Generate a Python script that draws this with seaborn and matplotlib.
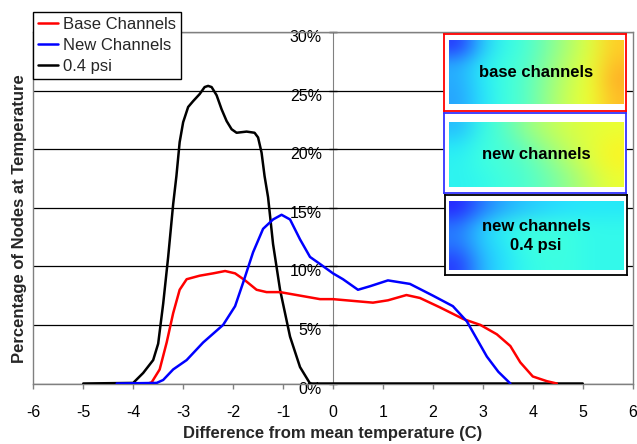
import numpy as np
import pandas as pd
import matplotlib
matplotlib.use("Agg")
import matplotlib.pyplot as plt
import seaborn as sns
from matplotlib.ticker import PercentFormatter
from matplotlib.transforms import ScaledTranslation

# ---------------- data (percent of nodes vs. temperature difference, C) -------------
base_x = [-3.7, -3.63, -3.47, -3.33, -3.2, -3.07, -2.93, -2.67, -2.4, -2.16, -1.96,
          -1.76, -1.53, -1.33, -1.06, -0.26, 0.0, 0.8, 1.1, 1.47, 1.74, 2.14, 2.61,
          2.95, 3.28, 3.55, 3.75, 4.0, 4.28, 4.48]
base_y = [0.0, 0.1, 1.2, 3.5, 6.0, 8.0, 8.9, 9.2, 9.4, 9.6, 9.4, 8.8, 8.0, 7.8, 7.8,
          7.2, 7.2, 6.9, 7.1, 7.55, 7.3, 6.5, 5.5, 5.0, 4.2, 3.2, 1.8, 0.6, 0.2, 0.0]

new_x = [-4.33, -3.53, -3.4, -3.2, -2.93, -2.6, -2.2, -1.96, -1.8, -1.6, -1.4, -1.2,
         -1.03, -0.86, -0.66, -0.46, -0.26, 0.0, 0.2, 0.5, 0.74, 1.1, 1.54, 2.0, 2.4,
         2.68, 2.88, 3.08, 3.31, 3.55]
new_y = [0.0, 0.05, 0.3, 1.2, 2.0, 3.5, 5.0, 6.6, 8.6, 11.2, 13.2, 14.0, 14.4, 14.0,
         12.3, 10.8, 10.2, 9.4, 8.9, 8.0, 8.3, 8.8, 8.5, 7.5, 6.6, 5.3, 3.8, 2.3, 1.0, 0.0]

psi_x = [-5.0, -4.0, -3.8, -3.6, -3.5, -3.4, -3.3, -3.2, -3.135, -3.07, -3.0, -2.9,
         -2.8, -2.67, -2.57, -2.5, -2.43, -2.33, -2.23, -2.13, -2.03, -1.93, -1.73,
         -1.57, -1.5, -1.43, -1.37, -1.3, -1.2, -1.06, -0.86, -0.66, -0.46, 0.0, 5.0]
psi_y = [0.0, 0.05, 0.9, 2.0, 3.4, 6.8, 10.8, 15.3, 17.7, 20.6, 22.3, 23.6, 24.1,
         24.7, 25.3, 25.4, 25.3, 24.6, 23.4, 22.4, 21.7, 21.4, 21.5, 21.4, 21.0, 19.7,
         17.7, 15.9, 11.9, 8.0, 4.0, 1.4, 0.0, 0.0, 0.0]

series_names = ["Base Channels", "New Channels", "0.4 psi"]
series_colors = ["#ff0000", "#0000ff", "#000000"]

x_ticks = list(range(-6, 7))
y_ticks = [0, 5, 10, 15, 20, 25, 30]

inset_labels = ["base channels", "new channels", "new channels\n0.4 psi"]
inset_edges = ["#ff0000", "#3333ff", "#000000"]

# colour fields of the three thermal-map thumbnails (jet colormap values)
field_base = [[0.15, 0.31, 0.37, 0.40, 0.47, 0.55, 0.62, 0.70],
              [0.28, 0.35, 0.38, 0.41, 0.49, 0.57, 0.63, 0.72],
              [0.28, 0.35, 0.38, 0.42, 0.50, 0.58, 0.64, 0.74],
              [0.27, 0.34, 0.38, 0.42, 0.51, 0.59, 0.64, 0.72]]
field_new = [[0.30, 0.37, 0.42, 0.50, 0.56, 0.60, 0.62, 0.63],
             [0.35, 0.38, 0.40, 0.45, 0.52, 0.58, 0.62, 0.65],
             [0.36, 0.38, 0.40, 0.42, 0.48, 0.55, 0.61, 0.65],
             [0.36, 0.37, 0.39, 0.41, 0.45, 0.51, 0.58, 0.63]]
field_psi = [[0.12, 0.22, 0.28, 0.31, 0.33, 0.34, 0.35, 0.35],
             [0.22, 0.32, 0.36, 0.38, 0.38, 0.38, 0.37, 0.37],
             [0.22, 0.31, 0.35, 0.38, 0.39, 0.38, 0.37, 0.37],
             [0.15, 0.29, 0.34, 0.37, 0.38, 0.38, 0.37, 0.37]]

# ---------------- styling ----------------
sns.set_style("white")
plt.rcParams["font.family"] = ["Liberation Sans", "DejaVu Sans"]

W, H = 637, 444


def px_rect(l, t, r, b):
    return [l / W, 1 - b / H, (r - l) / W, (b - t) / H]


fig = plt.figure(figsize=(W / 100, H / 100), dpi=100)
ax = fig.add_axes(px_rect(33.3, 32, 632.7, 383.5))

frames = []
for name, xs, ys in zip(series_names, [base_x, new_x, psi_x], [base_y, new_y, psi_y]):
    frames.append(pd.DataFrame({"x": xs, "y": ys, "series": name}))
df = pd.concat(frames, ignore_index=True)

for name, color, z in zip(series_names, series_colors, [4, 5, 3]):
    sub = df[df["series"] == name]
    sns.lineplot(data=sub, x="x", y="y", color=color, lw=1.8, sort=False,
                 estimator=None, label=name, ax=ax, zorder=z)
for ln in ax.get_lines():
    ln.set_solid_joinstyle("round")
    ln.set_solid_capstyle("round")

ax.set_xlim(-6, 6)
ax.set_ylim(0, 30)
ax.set_xticks(x_ticks)
ax.set_xticklabels([str(t) for t in x_ticks])
ax.set_yticks(y_ticks)
ax.yaxis.grid(True, color="black", lw=0.9)
ax.xaxis.grid(False)
ax.set_axisbelow(True)
for s in ax.spines.values():
    s.set_color("#808080")
    s.set_linewidth(1.0)
ax.tick_params(axis="x", bottom=True, direction="out", length=3.6, width=1,
               color="#808080", labelsize=11.5, pad=12, labelcolor="black")
ax.tick_params(axis="y", left=False, labelleft=False)

ax.set_xlabel("Difference from mean temperature (C)", fontsize=12, fontweight="bold",
              labelpad=4)
ax.set_ylabel("Percentage of Nodes at Temperature", fontsize=12, fontweight="bold")
ax.yaxis.set_label_coords(-0.011, 0.47)

# secondary y axis at x = 0 (middle of the plot), labels on its left side
sec = ax.secondary_yaxis(0.5)
sec.set_alignment("left")
sec.set_yticks(y_ticks)
sec.yaxis.set_major_formatter(PercentFormatter(xmax=100, decimals=0))
for s in sec.spines.values():
    s.set_color("#808080")
sec.tick_params(axis="y", direction="inout", length=6, width=1, color="#303030",
                labelsize=11.5, pad=5, labelcolor="black")
for lab in sec.get_yticklabels():
    lab.set_transform(lab.get_transform() + ScaledTranslation(0, -3 / 72, fig.dpi_scale_trans))

leg = ax.legend(loc="upper left", bbox_to_anchor=(33.3 / W, 1 - 12.3 / H),
                bbox_transform=fig.transFigure, frameon=True, fancybox=False,
                edgecolor="black", framealpha=1, borderaxespad=0, handlelength=1.2,
                handletextpad=0.3, borderpad=0.3, labelspacing=0.35, fontsize=12)
leg.get_frame().set_linewidth(1.0)
leg.set_zorder(10)

# ---------------- thumbnails ----------------
jet = plt.get_cmap("jet")
boxes = [(444, 34, 626, 111), (444, 113, 626, 193), (444.5, 195, 626.5, 275)]
imgs = [(449, 40, 623, 104), (449, 121.5, 623, 187.5), (449, 201.5, 623, 270)]
fields = [field_base, field_new, field_psi]
for box, img, fld, lab, ec in zip(boxes, imgs, fields, inset_labels, inset_edges):
    bx = fig.add_axes(px_rect(*box))
    bx.set_facecolor("white")
    bx.set_xticks([])
    bx.set_yticks([])
    for s in bx.spines.values():
        s.set_color(ec)
        s.set_linewidth(1.3)
    ix = fig.add_axes(px_rect(*img))
    rgb = jet(np.array(fld))[..., :3]
    rgb = 0.85 * rgb + 0.15
    ix.imshow(rgb, aspect="auto", interpolation="bicubic")
    ix.set_xticks([])
    ix.set_yticks([])
    for s in ix.spines.values():
        s.set_visible(False)
    ix.text(0.5, 0.5, lab, transform=ix.transAxes, ha="center", va="center",
            fontsize=12, fontweight="bold", color="black", linespacing=1.3)

fig.savefig("out.png", dpi=100)
